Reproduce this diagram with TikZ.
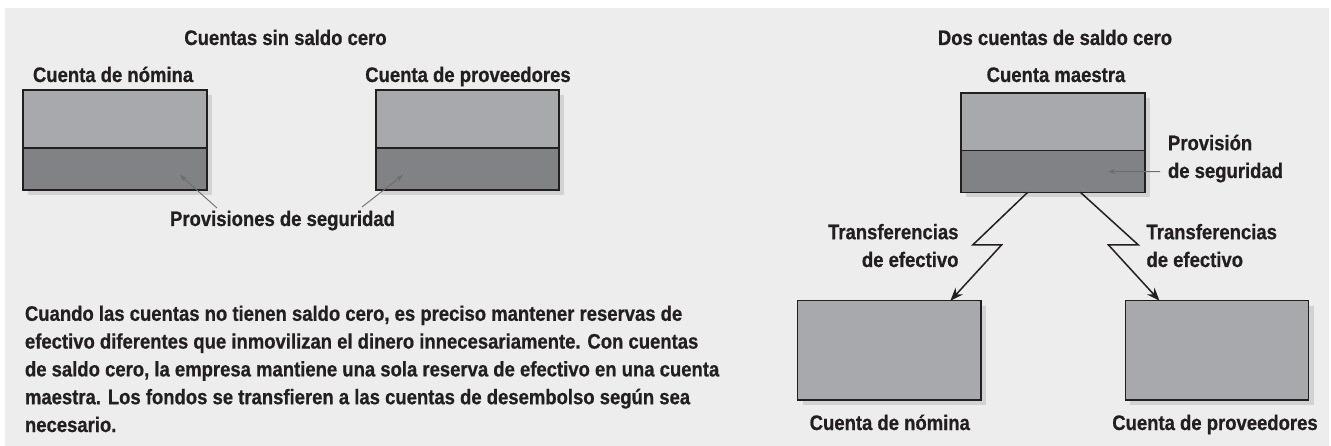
\documentclass[tikz,border=0pt]{standalone}
\usepackage{fontspec}
\setmainfont{Liberation Sans}[FakeStretch=0.88,BoldFeatures={FakeBold=0.7}]
\usetikzlibrary{shadows,arrows.meta,calc}
\definecolor{bgc}{HTML}{EDEDED}
\definecolor{boxlight}{HTML}{A7A9AC}
\definecolor{boxdark}{HTML}{808285}
\definecolor{shadowc}{HTML}{D1D2D4}
\definecolor{edgec}{HTML}{231F20}
\definecolor{ptrc}{HTML}{6D6E71}
\definecolor{txtc}{HTML}{231F20}
\tikzset{
  lbl/.style={font=\fontsize{21}{27.8}\selectfont\bfseries, text=txtc, inner sep=0pt, outer sep=0pt},
  acct/.style={draw=edgec, line width=1.3pt, fill=boxlight, inner sep=0pt, outer sep=0pt,
    drop shadow={shadow xshift=5pt, shadow yshift=-5pt, fill=shadowc, opacity=1}},
  secpart/.style={draw=edgec, line width=1.3pt, fill=boxdark, inner sep=0pt, outer sep=0pt},
  ptr/.style={draw=ptrc, line width=0.9pt, -{Stealth[length=7pt,width=5pt]}},
  xfer/.style={draw=edgec, line width=1.5pt, -{Stealth[length=13pt,width=10pt]}},
}
\begin{document}
\begin{tikzpicture}[x=1pt,y=-1pt]
\useasboundingbox (0,0) rectangle (1331,446);
\fill[white] (0,0) rectangle (1331,446);
\fill[bgc] (5,8) rectangle (1329,446);

% ---------- left part ----------
\node[lbl, anchor=base] (t1) at (285.5,45) {Cuentas sin saldo cero};
\node[lbl, anchor=base west] (l1) at (33,82) {Cuenta de nómina};
\node[lbl, anchor=base] (l2) at (468,82) {Cuenta de proveedores};

\node[acct, anchor=north west, minimum width=184, minimum height=100] (b1) at (23,90) {};
\node[secpart, anchor=south west, minimum width=184, minimum height=42] (b1s) at (b1.south west) {};
\node[acct, anchor=north west, minimum width=183, minimum height=100] (b2) at (376,90) {};
\node[secpart, anchor=south west, minimum width=183, minimum height=42] (b2s) at (b2.south west) {};

\node[lbl, anchor=base] (ps) at (282.5,226) {Provisiones de seguridad};
\coordinate (p1s) at (217,208);
\coordinate (p2s) at (362,207);
\draw[ptr] (p1s) -- ($(b1s.south west)+(157,-15)$);
\draw[ptr] (p2s) -- ($(b2s.south west)+(27,-15)$);

\node[lbl, anchor=base west, align=left] (para) at (25,432) {%
Cuando las cuentas no tienen saldo cero, es preciso mantener reservas de\\
efectivo diferentes que inmovilizan el dinero innecesariamente. Con cuentas\\
de saldo cero, la empresa mantiene una sola reserva de efectivo en una cuenta\\
maestra. Los fondos se transfieren a las cuentas de desembolso según sea\\
necesario.};

% ---------- right part ----------
\node[lbl, anchor=base] (t2) at (1055,45) {Dos cuentas de saldo cero};
\node[lbl, anchor=base] (lm) at (1056,82) {Cuenta maestra};
\node[acct, anchor=north west, minimum width=184, minimum height=99.3] (m) at (961,93) {};
\node[secpart, anchor=south west, minimum width=184, minimum height=41.6] (ms) at (m.south west) {};

\node[lbl, anchor=base west, align=left] (pv) at (1168,178) {Provisión\\de seguridad};
\coordinate (pvs) at (1160,171.7);
\draw[ptr] (pvs) -- ($(ms.south west)+(147,-20.6)$);

\node[acct, anchor=north west, minimum width=183.4, minimum height=99.3] (bl) at (797.6,300.7) {};
\node[acct, anchor=north west, minimum width=183.4, minimum height=99.3] (br) at (1125.4,300.7) {};
\node[lbl, anchor=base] (lbl) at (889.8,430) {Cuenta de nómina};
\node[lbl, anchor=base] (lbr) at (1215,430) {Cuenta de proveedores};

\node[lbl, anchor=base east, align=right] (tl) at (958.5,267) {Transferencias\\de efectivo};
\node[lbl, anchor=base west, align=left] (tr) at (1146.5,267) {Transferencias\\de efectivo};

\draw[xfer] ($(ms.south west)+(66.7,0)$) -- ++(-55,52.7) -- ++(28.8,0) [rounded corners=5pt]
  -- ($(bl.north west)+(152.8,0)$);
\draw[xfer] ($(ms.south west)+(119.4,0)$) -- ++(58,52.7) -- ++(-29.9,0) [rounded corners=5pt]
  -- ($(br.north west)+(34.1,0)$);
\end{tikzpicture}
\end{document}
